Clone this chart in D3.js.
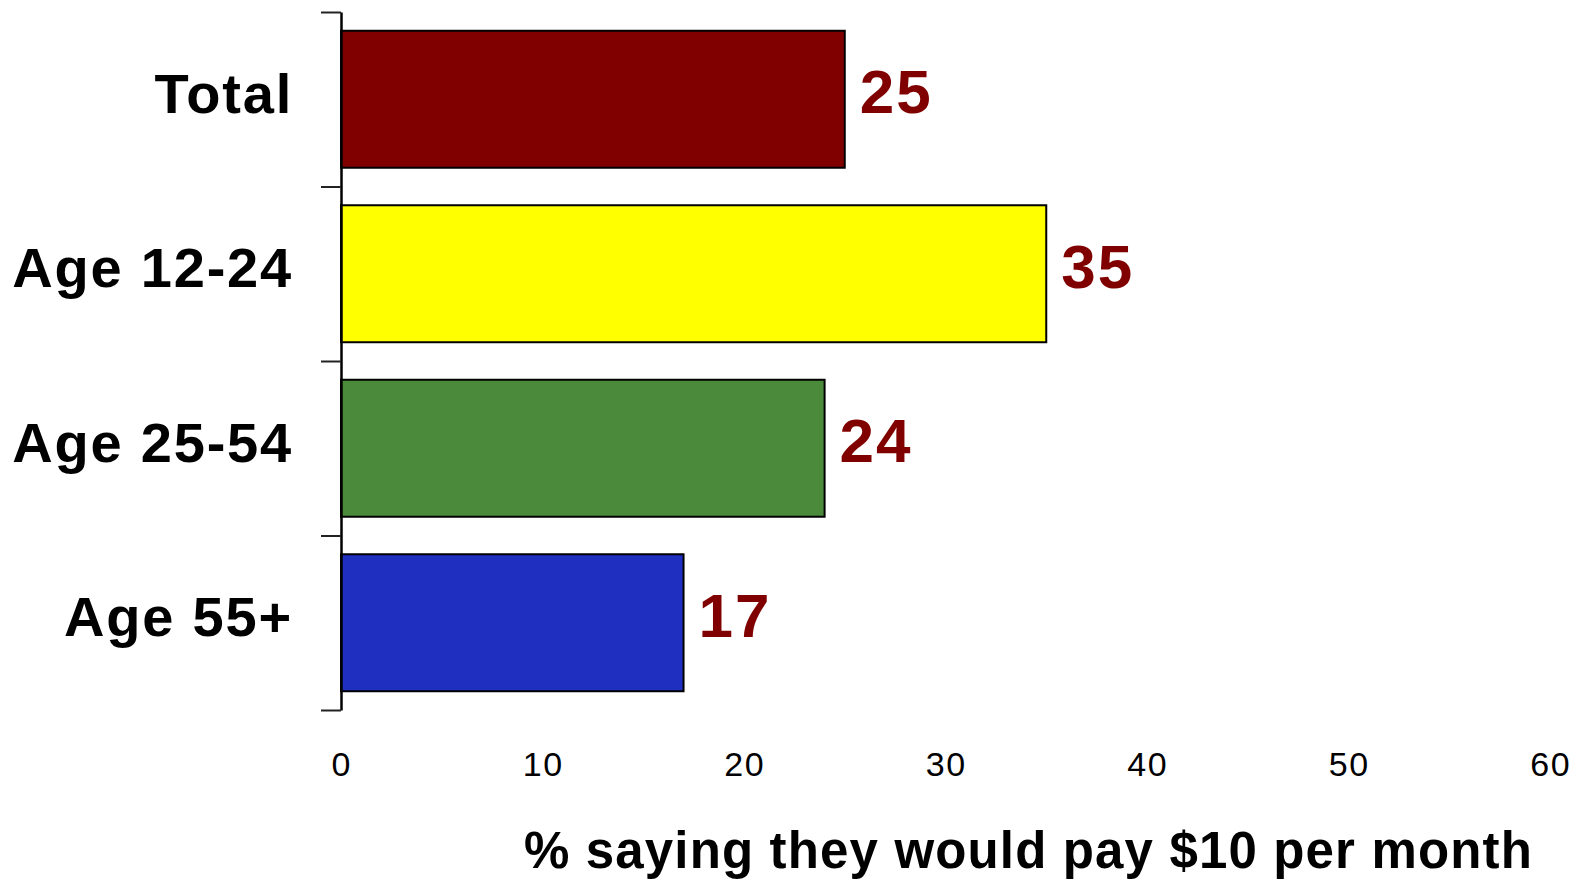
<!DOCTYPE html>
<html>
<head>
<meta charset="utf-8">
<script src="https://cdn.jsdelivr.net/npm/d3@7/dist/d3.min.js"></script>
<style>
  html, body { margin: 0; padding: 0; background: #fff; }
  svg { display: block; font-family: "Liberation Sans", Arial, Helvetica, sans-serif; }
</style>
</head>
<body>
<svg id="chart" width="1583" height="880"></svg>
<script>
// Share willing to pay $10 a month, by age group
const categories = ["Total", "Age 12-24", "Age 25-54", "Age 55+"];
const values = [25, 35, 24, 17];
const barColors = ["#800000", "#ffff00", "#4b8a3a", "#1f30c1"];
const xTicks = [0, 10, 20, 30, 40, 50, 60];
const xTitle = "% saying they would pay $10 per month";

const svg = d3.select("#chart");

const x = d3.scaleLinear().domain([0, 60]).range([341, 1550]);
const y = d3.scaleBand()
  .domain(categories)
  .range([12, 710])
  .paddingInner(0.215)
  .paddingOuter(0.1075);

// Band boundaries carry the tick marks on the category axis
const yEdges = d3.scaleLinear().domain([0, categories.length]).range([12, 710]);
const yAxis = d3.axisLeft(yEdges)
  .tickValues(d3.range(categories.length + 1))
  .tickSize(20)
  .tickSizeOuter(0)
  .tickFormat("");

// Bars
svg.append("g")
  .selectAll("rect")
  .data(categories)
  .join("rect")
  .attr("x", x(0))
  .attr("y", d => y(d))
  .attr("width", (d, i) => x(values[i]) - x(0))
  .attr("height", y.bandwidth())
  .attr("fill", (d, i) => barColors[i])
  .attr("stroke", "#000")
  .attr("stroke-width", 2);

const axisG = svg.append("g")
  .attr("transform", `translate(${x(0)},0)`)
  .call(yAxis);
axisG.select(".domain").attr("stroke", "#000").attr("stroke-width", 2.5);
axisG.selectAll(".tick line").attr("stroke", "#222").attr("stroke-width", 2);

// Category labels
svg.append("g")
  .selectAll("text")
  .data(categories)
  .join("text")
  .attr("x", 293)
  .attr("y", d => y(d) + y.bandwidth() / 2 + 13.5)
  .attr("text-anchor", "end")
  .attr("font-size", 56)
  .attr("font-weight", "bold")
  .attr("letter-spacing", 1.8)
  .attr("fill", "#000")
  .text(d => d);

// Value labels
svg.append("g")
  .selectAll("text")
  .data(categories)
  .join("text")
  .attr("x", (d, i) => x(values[i]) + 15)
  .attr("y", d => y(d) + y.bandwidth() / 2 + 14)
  .attr("font-size", 62)
  .attr("font-weight", "bold")
  .attr("letter-spacing", 2)
  .attr("fill", "#800000")
  .text((d, i) => values[i]);

// Value axis labels (no axis line)
svg.append("g")
  .selectAll("text")
  .data(xTicks)
  .join("text")
  .attr("x", d => x(d) + 0.75)
  .attr("y", 776)
  .attr("text-anchor", "middle")
  .attr("font-size", 34)
  .attr("letter-spacing", 1.5)
  .attr("fill", "#000")
  .text(d => d);

// Axis title
svg.append("text")
  .attr("x", 524)
  .attr("y", 868)
  .attr("font-size", 51)
  .attr("font-weight", "bold")
  .attr("letter-spacing", 1.15)
  .attr("fill", "#000")
  .text(xTitle);
</script>
</body>
</html>
